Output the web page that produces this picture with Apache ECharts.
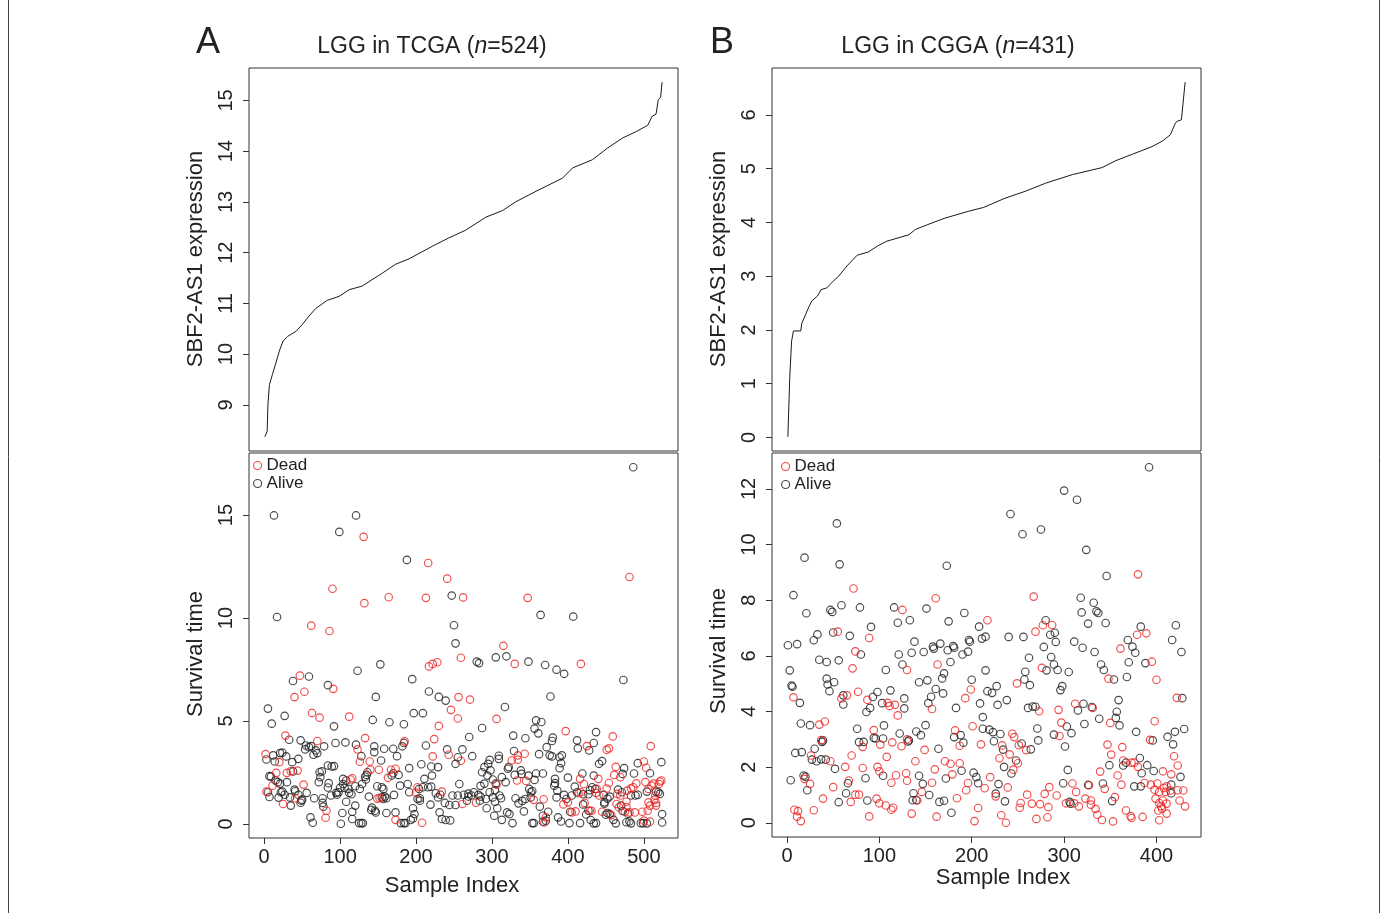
<!DOCTYPE html>
<html>
<head>
<meta charset="utf-8">
<script src="https://cdn.jsdelivr.net/npm/echarts@6/dist/echarts.min.js"></script>
<style>
  html, body { margin: 0; padding: 0; background: #fff; }
  #chart { width: 1383px; height: 913px; }
</style>
</head>
<body>
<div id="chart"></div>
<script>
// ---------- data ----------
const tcgaSamples = 524;
const cggaSamples = 431;

// sorted SBF2-AS1 expression, TCGA (sample index, expression)
const tcgaCurveIndex = [1, 4, 5, 7, 11, 15, 20, 25, 31, 42, 50, 59, 68, 83, 99, 112, 129, 156, 173, 191, 222, 243, 265, 292, 314, 331, 358, 393, 406, 432, 452, 472, 489, 505, 511, 516, 519, 522, 524];
const tcgaCurveExpr = [8.37, 8.48, 9.01, 9.40, 9.60, 9.80, 10.06, 10.26, 10.35, 10.45, 10.58, 10.75, 10.90, 11.06, 11.14, 11.27, 11.34, 11.60, 11.77, 11.88, 12.13, 12.29, 12.44, 12.70, 12.83, 13.00, 13.21, 13.47, 13.67, 13.83, 14.06, 14.26, 14.38, 14.51, 14.69, 14.73, 15.02, 15.06, 15.36];

// sorted SBF2-AS1 expression, CGGA
const cggaCurveIndex = [1, 3, 5, 7, 15, 16, 19, 24, 27, 33, 37, 43, 49, 56, 65, 76, 88, 98, 108, 132, 139, 157, 171, 197, 213, 236, 258, 280, 309, 341, 356, 374, 395, 406, 415, 420, 422, 427, 429, 431];
const cggaCurveExpr = [0.01, 1.11, 1.79, 1.98, 1.98, 2.12, 2.24, 2.44, 2.54, 2.63, 2.75, 2.78, 2.89, 3.00, 3.19, 3.39, 3.45, 3.56, 3.65, 3.77, 3.87, 3.99, 4.08, 4.21, 4.28, 4.45, 4.58, 4.73, 4.89, 5.02, 5.15, 5.27, 5.41, 5.51, 5.63, 5.83, 5.88, 5.91, 5.93, 6.61];

// survival time by sample index, TCGA
const tcgaDead = [
  [90,11.42],[131,13.94],[216,12.67],[241,11.91],[262,11.0],[132,10.72],[164,11.01],[213,10.98],[62,9.63],[86,9.37],
  [481,11.99],[347,10.98],[315,8.65],
  [47,7.20],[40,6.16],[53,6.42],[91,6.56],[217,7.65],[222,7.77],[228,7.85],[259,8.07],[256,6.16],[246,5.54],[255,5.12],
  [63,5.39],[73,5.16],[112,5.21],[230,4.76],[28,4.29],[70,4.03],[133,4.17],[123,3.62],[126,3.02],[185,4.01],[139,3.03],
  [224,4.12],[243,3.36],[222,3.28],[259,3.07],[2,3.39],[20,3.00],[16,2.48],[30,2.48],[35,2.56],[44,2.59],[11,1.86],
  [3,1.57],[25,0.97],[41,1.25],[52,1.91],[82,0.64],[81,0.30],[140,2.64],[114,2.16],[116,2.22],[151,2.63],[149,1.23],
  [152,1.26],[163,2.24],[167,2.63],[173,2.68],[173,0.20],[202,1.78],[200,1.51],[208,0.06],[234,1.57],[261,0.97],
  [271,6.04],[306,5.10],[417,7.77],[330,7.77],[397,4.51],[459,4.25],[425,3.78],[451,3.60],[454,3.67],[509,3.78],
  [334,3.33],[334,3.12],[343,3.41],[326,3.08],[463,2.77],[461,2.38],[469,2.27],[500,3.03],[503,2.73],[333,2.11],
  [345,2.09],[306,1.91],[416,2.19],[421,1.94],[440,2.19],[454,1.99],[451,1.72],[279,1.03],[355,1.17],[368,1.20],
  [369,0.07],[371,0.32],[394,0.95],[400,1.05],[405,0.56],[410,0.61],[414,1.49],[417,1.54],[422,1.02],[429,0.64],
  [431,0.64],[438,1.70],[437,1.51],[441,1.38],[457,0.43],[445,0.59],[465,1.46],[469,1.38],[464,0.97],[467,0.81],
  [477,1.08],[477,0.82],[475,0.59],[481,0.56],[478,1.62],[483,1.73],[486,1.78],[490,1.97],[488,0.56],[498,0.59],
  [505,0.64],[508,0.89],[506,1.05],[500,0.16],[508,0.11],[506,1.70],[502,2.03],[510,1.86],[513,1.96],[521,2.06],
  [523,2.11],[520,1.94],[515,1.38],[514,1.17],[516,1.02],[516,0.89]
];
const tcgaAlive = [
  [13,14.98],[121,14.98],[99,14.18],[188,12.82],[247,11.09],[17,10.05],[250,9.65],[252,8.77],
  [486,17.32],[364,10.15],[407,10.07],
  [38,6.94],[59,7.16],[84,6.74],[123,7.44],[153,7.75],[195,7.03],[147,6.17],[217,6.43],[230,6.17],[239,5.99],[5,5.60],
  [10,4.87],[27,5.25],[92,4.74],[143,5.05],[165,4.94],[184,4.84],[197,5.38],[209,5.38],[33,4.09],[48,4.06],[55,3.81],
  [59,3.73],[62,3.78],[54,3.62],[65,3.36],[70,3.44],[68,3.57],[79,3.77],[94,3.93],[107,3.96],[121,3.85],[128,3.29],
  [145,3.77],[145,3.49],[158,3.65],[170,3.65],[175,3.29],[182,3.77],[184,3.93],[154,3.08],[213,3.81],[241,3.62],
  [255,3.24],[261,3.62],[207,2.90],[220,2.79],[229,2.76],[252,2.92],[3,3.13],[12,3.33],[21,3.44],[24,3.46],[29,3.28],
  [14,3.03],[37,3.00],[45,3.16],[7,2.32],[9,2.30],[38,2.55],[18,2.03],[15,2.11],[21,1.96],[30,2.03],[24,1.57],
  [27,1.42],[22,1.54],[5,1.54],[7,1.31],[19,1.28],[35,0.89],[34,1.29],[41,1.59],[40,1.67],[45,1.42],[49,1.13],
  [50,1.18],[48,1.03],[56,1.51],[66,1.25],[73,2.51],[74,2.27],[76,2.55],[72,2.03],[84,2.84],[89,2.79],[92,2.81],
  [85,1.98],[84,1.77],[77,1.25],[77,1.02],[78,0.84],[61,0.32],[64,0.06],[88,1.38],[95,1.51],[96,1.42],[98,1.54],
  [100,1.75],[104,1.94],[106,1.75],[108,2.11],[104,2.19],[111,1.70],[112,1.51],[115,1.44],[108,1.08],[120,0.89],
  [116,0.59],[116,0.24],[103,0.53],[101,0.01],[125,0.04],[128,0.04],[130,0.04],[120,1.83],[126,1.70],[129,1.94],
  [133,2.29],[135,2.38],[136,2.51],[134,2.16],[138,1.33],[142,0.79],[146,0.64],[147,0.56],[141,0.68],[149,1.83],
  [155,1.78],[157,1.70],[155,1.29],[157,1.21],[159,1.33],[161,1.25],[161,0.53],[171,1.41],[170,2.46],[168,2.35],
  [177,2.38],[179,1.86],[191,2.71],[189,1.94],[191,1.54],[173,0.56],[180,0.04],[184,0.04],[186,0.04],[193,0.19],
  [196,0.27],[204,1.70],[202,1.21],[205,1.13],[205,1.25],[196,0.76],[198,0.48],[209,1.78],[216,1.78],[220,1.81],
  [211,2.19],[221,2.35],[226,1.49],[232,1.42],[219,0.94],[231,0.56],[234,0.24],[239,0.19],[245,0.17],[248,1.38],
  [255,1.38],[244,0.92],[252,0.92],[257,1.94],[238,1.02],[229,1.29],
  [280,7.88],[283,7.81],[305,8.09],[319,8.14],[348,7.88],[370,7.72],[385,7.49],[395,7.29],[473,6.99],[377,6.19],
  [317,5.68],[358,5.03],[365,4.95],[356,4.63],[361,4.40],[287,4.66],[270,4.22],[328,4.29],[344,4.16],[380,4.19],
  [379,4.03],[372,3.73],[437,4.46],[412,4.06],[413,3.67],[434,3.93],[428,3.57],[329,3.54],[309,3.31],[309,3.16],
  [297,3.11],[274,3.29],[362,3.39],[376,3.33],[379,3.28],[389,3.24],[392,3.33],[391,2.95],[389,2.71],[441,2.92],
  [445,3.05],[474,2.71],[472,2.43],[492,2.95],[523,3.0],[508,2.46],[487,2.45],[290,2.76],[295,2.92],[287,2.51],
  [298,2.60],[294,2.35],[301,2.16],[285,1.85],[290,1.96],[305,1.96],[313,2.27],[318,2.03],[321,2.68],[322,2.76],
  [330,2.38],[338,2.60],[339,2.43],[348,2.35],[358,2.45],[367,2.45],[356,2.14],[383,2.19],[383,1.98],[382,1.86],
  [400,2.25],[419,2.45],[434,2.35],[432,1.78],[436,1.70],[276,1.54],[263,1.42],[282,1.41],[285,1.33],[269,1.47],
  [273,1.38],[267,1.13],[269,1.33],[284,1.13],[292,1.21],[297,1.54],[304,1.64],[301,1.29],[304,1.08],[310,1.38],
  [312,1.25],[293,0.76],[307,0.76],[303,0.40],[313,0.20],[320,0.56],[323,0.48],[331,1.25],[335,1.00],[340,1.12],
  [344,1.21],[342,0.61],[349,1.70],[351,1.54],[353,1.60],[351,1.29],[363,0.84],[327,0.04],[353,0.04],[355,0.04],
  [367,0.11],[371,0.16],[367,0.40],[374,0.59],[385,1.29],[386,1.62],[395,1.41],[398,1.21],[387,0.32],[391,0.12],
  [403,0.59],[402,0.04],[416,0.04],[405,1.38],[409,1.81],[412,1.54],[420,1.44],[427,1.44],[429,1.64],[420,0.95],
  [427,0.64],[424,0.46],[430,0.19],[434,0.03],[437,0.04],[447,1.41],[448,1.05],[448,0.98],[452,1.23],[455,1.33],
  [455,0.48],[450,0.45],[452,0.53],[460,0.20],[463,0.03],[471,1.54],[466,1.67],[470,0.89],[472,0.63],[479,0.50],
  [477,0.08],[481,0.12],[483,1.38],[489,1.38],[492,1.42],[483,0.03],[496,0.04],[499,0.04],[504,1.57],[516,1.57],
  [519,1.54],[521,1.46],[524,0.48],[524,0.07],[504,0.03]
];

// survival time by sample index, CGGA
const cggaDead = [
  [72,8.42],[161,8.07],[125,7.65],[217,7.28],[55,6.87],[89,6.64],
  [380,8.93],[267,8.13],[277,7.10],[287,7.11],[269,6.87],[379,6.76],[389,6.81],[361,6.26],
  [74,6.16],[71,5.55],[130,5.49],[163,5.69],[7,4.51],[59,4.47],[65,4.58],[77,4.71],[87,4.42],[109,4.31],[111,4.20],
  [117,4.24],[120,3.86],[157,4.09],[193,4.48],[199,4.79],[35,3.53],[41,3.64],[37,2.97],[94,3.33],[82,2.73],[101,2.81],
  [114,2.89],[124,2.75],[130,3.00],[149,2.62],[182,3.32],[187,2.77],[201,3.47],[210,2.82],[26,2.42],[47,2.21],
  [70,2.42],[108,2.37],[63,2.01],[82,1.97],[98,2.01],[100,1.85],[19,1.58],[25,1.40],[50,1.28],[67,1.52],[118,1.71],
  [129,1.78],[130,1.51],[113,1.44],[157,1.44],[139,2.21],[160,1.92],[171,2.21],[177,2.12],[187,2.14],[179,1.74],
  [196,1.43],[194,1.17],[214,1.24],[39,0.87],[8,0.47],[12,0.42],[11,0.22],[15,0.06],[29,0.45],[69,0.75],[74,1.01],
  [78,1.01],[89,0.23],[97,0.87],[100,0.70],[107,0.62],[113,0.47],[115,0.54],[141,0.80],[146,1.11],[135,0.33],
  [162,0.22],[184,0.88],[207,0.53],[203,0.06],
  [276,5.57],[249,5.01],[348,5.18],[395,5.79],[400,5.14],[422,4.49],[273,4.01],[294,4.06],[312,4.28],[331,4.13],
  [350,3.59],[297,3.60],[295,3.12],[398,3.65],[393,2.98],[244,3.20],[246,3.08],[251,2.79],[259,2.61],[233,2.78],
  [241,2.46],[230,2.32],[250,2.14],[245,1.91],[347,2.81],[351,2.45],[363,2.72],[364,2.24],[373,2.16],[376,2.16],
  [380,2.01],[419,2.39],[423,2.06],[407,1.85],[416,1.74],[339,1.84],[358,1.70],[362,1.37],[387,1.43],[394,1.37],
  [401,1.41],[309,1.41],[313,1.11],[327,1.35],[344,1.22],[226,0.95],[220,1.64],[239,1.27],[253,0.71],[252,0.54],
  [260,1.01],[265,0.69],[274,0.67],[279,1.04],[284,1.28],[283,0.56],[292,0.98],[232,0.27],[237,0.00],[270,0.14],
  [282,0.20],[302,0.70],[311,0.70],[316,0.59],[323,0.87],[329,0.80],[329,0.65],[334,0.50],[336,0.29],[341,0.10],
  [353,0.05],[355,0.92],[367,0.44],[372,0.24],[373,0.17],[385,0.21],[399,0.87],[403,0.71],[407,0.80],[405,0.60],
  [411,0.69],[402,0.44],[406,0.51],[411,0.33],[403,0.09],[425,0.80],[431,0.59],[398,1.19],[403,1.11],[408,1.25],
  [410,1.11],[415,1.16],[423,1.17],[429,1.16],[411,1.31]
];
const cggaAlive = [
  [54,10.76],[19,9.53],[57,9.29],[173,9.24],[7,8.18],[21,7.53],[47,7.65],[49,7.58],[59,7.82],[79,7.74],[116,7.74],
  [151,7.70],[192,7.54],[208,7.05],[175,7.24],[133,7.28],[120,7.19],[91,7.04],[33,6.77],[29,6.56],[50,6.84],[68,6.72],
  [1,6.38],[11,6.42],[138,6.51],[166,6.44],[158,6.33],[180,6.35],[197,6.57],[198,6.51],[211,6.62],[215,6.69],
  [392,12.78],[300,11.94],[314,11.61],[242,11.10],[255,10.37],[275,10.54],[324,9.81],[346,8.87],[318,8.09],[332,7.91],
  [335,7.60],[337,7.54],[319,7.56],[326,7.16],[345,7.18],[280,7.28],[285,6.76],[290,6.83],[240,6.68],[256,6.68],
  [278,6.32],[291,6.50],[311,6.51],[320,6.29],[383,7.05],[369,6.57],[374,6.33],[421,7.10],[417,6.57],
  [80,6.05],[121,6.05],[135,6.11],[148,6.14],[159,6.26],[174,6.20],[181,6.29],[190,6.05],[196,6.15],[35,5.86],
  [43,5.78],[56,5.84],[107,5.49],[125,5.69],[177,5.78],[170,5.37],[168,5.19],[3,5.48],[5,4.93],[6,4.89],[14,4.31],
  [43,5.18],[51,5.05],[44,4.97],[46,4.73],[61,4.58],[61,4.25],[93,4.52],[98,4.70],[90,4.13],[86,3.98],[103,4.30],
  [112,4.76],[127,4.47],[127,4.11],[143,5.05],[152,5.12],[161,4.81],[169,4.65],[156,4.53],[153,4.30],[183,4.13],
  [200,5.14],[209,4.29],[215,5.48],[15,3.57],[25,3.51],[38,2.91],[39,2.96],[76,3.38],[94,3.05],[96,3.03],[104,3.03],
  [105,3.50],[78,2.90],[83,2.91],[122,3.21],[132,2.96],[131,2.92],[140,3.28],[145,3.15],[150,3.51],[164,2.66],
  [181,3.08],[188,3.15],[191,2.88],[212,3.38],[212,3.80],[9,2.51],[16,2.54],[30,2.66],[27,2.27],[32,2.21],[37,2.28],
  [42,2.27],[52,1.94],[4,1.53],[18,1.70],[20,1.66],[22,1.17],[66,1.42],[64,1.06],[85,1.60],[104,1.69],[143,1.69],
  [147,1.40],[172,1.59],[189,1.87],[202,1.80],[205,1.64],[207,1.42],[56,0.74],[87,0.80],[137,1.06],[136,0.81],
  [140,0.82],[154,1.00],[165,0.75],[170,0.79],[178,0.36],
  [262,5.93],[286,5.96],[289,5.69],[293,5.49],[281,5.48],[305,5.42],[258,5.43],[257,5.15],[263,4.95],[227,4.91],
  [222,4.67],[217,4.73],[238,4.41],[228,4.24],[298,4.91],[296,4.77],[333,6.14],[377,6.11],[340,5.69],[343,5.49],
  [354,5.15],[368,5.24],[370,5.77],[388,5.74],[427,6.14],[428,4.48],[261,4.13],[266,4.18],[269,4.17],[315,4.04],
  [321,4.28],[330,4.16],[359,4.41],[357,3.99],[356,3.77],[360,3.50],[338,3.74],[322,3.55],[303,3.46],[308,3.22],
  [289,3.17],[271,3.39],[272,2.96],[301,2.74],[430,3.37],[420,3.27],[412,3.09],[418,2.82],[396,2.96],[378,3.27],
  [219,3.35],[223,3.26],[231,3.19],[224,2.93],[254,2.85],[264,2.64],[234,2.63],[248,2.24],[235,2.01],[243,1.77],
  [382,2.33],[367,2.16],[364,2.06],[390,2.07],[397,1.86],[384,1.78],[426,1.65],[349,2.07],[376,1.31],[383,1.31],
  [304,1.90],[299,1.42],[326,1.36],[342,1.41],[229,1.39],[226,1.05],[236,0.77],[306,0.75],[307,0.69],[352,0.78],
  [416,1.37],[416,1.06]
];

// tick labels
const tcgaIndexTicks = [0, 100, 200, 300, 400, 500];
const cggaIndexTicks = [0, 100, 200, 300, 400];
const tcgaExprTicks = [9, 10, 11, 12, 13, 14, 15];
const cggaExprTicks = [0, 1, 2, 3, 4, 5, 6];
const tcgaTimeTicks = [0, 5, 10, 15];
const cggaTimeTicks = [0, 2, 4, 6, 8, 10, 12];

// ---------- helpers ----------
const FONT = '"Liberation Sans", Arial, Helvetica, sans-serif';
const INK = '#222';
const RED = '#ee1f1f';
const BLACK = '#1a1a1a';

// base-graphics style range: data extent widened by 4% on both sides
function padded(lo, hi) { const d = (hi - lo) * 0.04; return [lo - d, hi + d]; }
function extentOf(values) { return [Math.min(...values), Math.max(...values)]; }
const zip = (xs, ys) => xs.map((x, i) => [x, ys[i]]);

const tcgaX = padded(1, tcgaSamples);
const cggaX = padded(1, cggaSamples);
const tcgaExprY = padded(...extentOf(tcgaCurveExpr));
const cggaExprY = padded(...extentOf(cggaCurveExpr));
const tcgaTimeY = padded(...extentOf(tcgaDead.concat(tcgaAlive).map(p => p[1])));
const cggaTimeY = padded(...extentOf(cggaDead.concat(cggaAlive).map(p => p[1])));

function xAxisOf(gridIndex, range, ticks) {
  const show = !!ticks;
  return {
    type: 'value', gridIndex, min: range[0], max: range[1],
    axisLine: { show: false, onZero: false }, splitLine: { show: false },
    axisTick: { show, customValues: ticks || [], length: 6, lineStyle: { color: '#333', width: 1 } },
    axisLabel: { show, customValues: ticks || [], margin: 9, fontSize: 20, color: INK, fontFamily: FONT }
  };
}
function yAxisOf(gridIndex, range, ticks) {
  return {
    type: 'value', gridIndex, min: range[0], max: range[1],
    axisLine: { show: false, onZero: false }, splitLine: { show: false },
    axisTick: { show: true, customValues: ticks, length: 6, lineStyle: { color: '#333', width: 1 } },
    axisLabel: { show: true, customValues: ticks, rotate: 90, margin: 13, fontSize: 20, color: INK, fontFamily: FONT }
  };
}
function frameGrid(left, top, width, height) {
  return { left, top, width, height, show: true, borderColor: '#333', borderWidth: 1, backgroundColor: 'transparent' };
}
function pointStyle(color) {
  return { color: 'transparent', borderColor: color, borderWidth: 1.15 };
}
function statusLegend(left, top) {
  return {
    left, top, orient: 'vertical', icon: 'circle', itemWidth: 8, itemHeight: 8, itemGap: 1, padding: 0,
    selectedMode: false,
    textStyle: { fontSize: 17, color: INK, fontFamily: FONT },
    data: [
      { name: 'Dead', itemStyle: pointStyle(RED) },
      { name: 'Alive', itemStyle: pointStyle(BLACK) }
    ]
  };
}
function label(text, x, y, size, rotation, rich) {
  const style = { text, fontSize: size, fontFamily: FONT, fill: INK, align: 'center', verticalAlign: 'middle' };
  if (rich) style.rich = rich;
  return { type: 'text', x, y, rotation: rotation || 0, silent: true, style };
}

// ---------- chart ----------
const chart = echarts.init(document.getElementById('chart'), null, { renderer: 'canvas' });

// italic sample-size letter in the panel titles
const titleRich = { i: { fontStyle: 'italic', fontSize: 23, fontFamily: FONT, fill: INK } };

chart.setOption({
  animation: false,
  backgroundColor: '#fff',
  grid: [
    frameGrid(249, 68, 429, 383),
    frameGrid(249, 453, 429, 385),
    frameGrid(772, 68, 429, 383),
    frameGrid(772, 453, 429, 384)
  ],
  xAxis: [
    xAxisOf(0, tcgaX, null),
    xAxisOf(1, tcgaX, tcgaIndexTicks),
    xAxisOf(2, cggaX, null),
    xAxisOf(3, cggaX, cggaIndexTicks)
  ],
  yAxis: [
    yAxisOf(0, tcgaExprY, tcgaExprTicks),
    yAxisOf(1, tcgaTimeY, tcgaTimeTicks),
    yAxisOf(2, cggaExprY, cggaExprTicks),
    yAxisOf(3, cggaTimeY, cggaTimeTicks)
  ],
  legend: [statusLegend(253, 457), statusLegend(781, 458)],
  series: [
    { name: 'TCGA expression', type: 'line', xAxisIndex: 0, yAxisIndex: 0, showSymbol: false, silent: true,
      data: zip(tcgaCurveIndex, tcgaCurveExpr), lineStyle: { color: BLACK, width: 1 } },
    { name: 'Alive', type: 'scatter', xAxisIndex: 1, yAxisIndex: 1, symbol: 'circle', symbolSize: 7.5,
      data: tcgaAlive, itemStyle: pointStyle(BLACK) },
    { name: 'Dead', type: 'scatter', xAxisIndex: 1, yAxisIndex: 1, symbol: 'circle', symbolSize: 7.5,
      data: tcgaDead, itemStyle: pointStyle(RED) },
    { name: 'CGGA expression', type: 'line', xAxisIndex: 2, yAxisIndex: 2, showSymbol: false, silent: true,
      data: zip(cggaCurveIndex, cggaCurveExpr), lineStyle: { color: BLACK, width: 1 } },
    { name: 'Alive', type: 'scatter', xAxisIndex: 3, yAxisIndex: 3, symbol: 'circle', symbolSize: 7.5,
      data: cggaAlive, itemStyle: pointStyle(BLACK) },
    { name: 'Dead', type: 'scatter', xAxisIndex: 3, yAxisIndex: 3, symbol: 'circle', symbolSize: 7.5,
      data: cggaDead, itemStyle: pointStyle(RED) }
  ],
  graphic: [
    // outer figure frame: only the left and right edges fall inside the page
    { type: 'rect', silent: true, shape: { x: 8.5, y: -5, width: 1371, height: 930 },
      style: { fill: 'none', stroke: '#444', lineWidth: 1 } },
    label('A', 208, 43, 36),
    label('B', 722, 43, 36),
    label('LGG in TCGA ({i|n}=524)', 432, 47, 23, 0, titleRich),
    label('LGG in CGGA ({i|n}=431)', 958, 47, 23, 0, titleRich),
    label('SBF2-AS1 expression', 196, 259, 22, Math.PI / 2),
    label('SBF2-AS1 expression', 719, 259, 22, Math.PI / 2),
    label('Survival time', 196, 654, 22, Math.PI / 2),
    label('Survival time', 719, 651, 22, Math.PI / 2),
    label('Sample Index', 452, 886, 22),
    label('Sample Index', 1003, 878, 22)
  ]
});
</script>
</body>
</html>
